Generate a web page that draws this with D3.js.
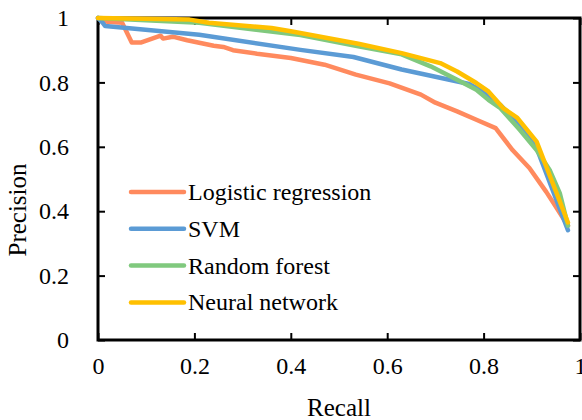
<!DOCTYPE html>
<html>
<head>
<meta charset="utf-8">
<script src="https://cdn.jsdelivr.net/npm/d3@7"></script>
<style>
  body { margin: 0; background: #fff; }
  svg text { font-family: "Liberation Serif", "Times New Roman", serif; fill: #000; }
</style>
</head>
<body>
<div id="chart"></div>
<script>
var seriesNames = ["Logistic regression", "SVM", "Random forest", "Neural network"];
var seriesColors = ["#ff8a5e", "#5b9bd5", "#80c97e", "#ffc000"];

var recallLR = [0, 0.02, 0.05, 0.07, 0.09, 0.13, 0.135, 0.155, 0.185, 0.24, 0.26, 0.28, 0.33, 0.40, 0.47, 0.535, 0.605, 0.67, 0.70, 0.745, 0.785, 0.825, 0.86, 0.895, 0.93, 0.95, 0.975];
var precisionLR = [1, 0.988, 0.985, 0.924, 0.924, 0.945, 0.936, 0.942, 0.931, 0.914, 0.91, 0.9, 0.889, 0.876, 0.855, 0.824, 0.797, 0.762, 0.737, 0.71, 0.684, 0.658, 0.59, 0.534, 0.46, 0.414, 0.355];

var recallSVM = [0, 0.01, 0.015, 0.21, 0.42, 0.53, 0.63, 0.77, 0.80, 0.835, 0.87, 0.905, 0.975];
var precisionSVM = [1, 0.985, 0.975, 0.948, 0.901, 0.879, 0.84, 0.795, 0.77, 0.73, 0.674, 0.616, 0.341];

var recallRF = [0, 0.21, 0.42, 0.54, 0.63, 0.69, 0.745, 0.785, 0.81, 0.835, 0.875, 0.91, 0.937, 0.958, 0.975];
var precisionRF = [1, 0.985, 0.947, 0.912, 0.887, 0.85, 0.808, 0.777, 0.746, 0.72, 0.653, 0.59, 0.528, 0.456, 0.355];

var recallNN = [0, 0.19, 0.23, 0.36, 0.40, 0.54, 0.63, 0.71, 0.745, 0.785, 0.81, 0.84, 0.87, 0.91, 0.975];
var precisionNN = [1, 0.995, 0.985, 0.969, 0.959, 0.92, 0.891, 0.86, 0.834, 0.798, 0.772, 0.721, 0.69, 0.616, 0.365];

var tickValues = [0, 0.2, 0.4, 0.6, 0.8, 1];

var width = 582, height = 420;
var plotLeft = 98, plotRight = 580, plotTop = 18, plotBottom = 340;

var svg = d3.select("#chart").append("svg")
  .attr("width", width)
  .attr("height", height);

var x = d3.scaleLinear().domain([0, 1]).range([plotLeft, plotRight]);
var y = d3.scaleLinear().domain([0, 1]).range([plotBottom, plotTop]);

var fmt = d => d === 0 || d === 1 ? String(d) : d.toFixed(1);

// frame ticks point inward on all four sides
function styleAxis(g) {
  g.select(".domain").remove();
  g.selectAll(".tick line").attr("stroke", "#000").attr("stroke-width", 2);
  g.selectAll(".tick text").style("font-size", "24px");
}

svg.append("g")
  .attr("transform", "translate(0," + plotBottom + ")")
  .call(d3.axisBottom(x).tickValues(tickValues).tickSizeInner(-7).tickSizeOuter(0).tickPadding(17).tickFormat(fmt))
  .call(styleAxis);

svg.append("g")
  .attr("transform", "translate(0," + plotTop + ")")
  .call(d3.axisTop(x).tickValues(tickValues).tickSizeInner(-7).tickSizeOuter(0).tickFormat(""))
  .call(styleAxis);

svg.append("g")
  .attr("transform", "translate(" + plotLeft + ",0)")
  .call(d3.axisLeft(y).tickValues(tickValues).tickSizeInner(-7).tickSizeOuter(0).tickPadding(29).tickFormat(fmt))
  .call(styleAxis);

svg.append("g")
  .attr("transform", "translate(" + plotRight + ",0)")
  .call(d3.axisRight(y).tickValues(tickValues).tickSizeInner(-7).tickSizeOuter(0).tickFormat(""))
  .call(styleAxis);

svg.append("rect")
  .attr("x", plotLeft).attr("y", plotTop)
  .attr("width", plotRight - plotLeft).attr("height", plotBottom - plotTop)
  .attr("fill", "none")
  .attr("stroke", "#000")
  .attr("stroke-width", 3);

svg.append("text")
  .attr("x", (plotLeft + plotRight) / 2)
  .attr("y", 416)
  .attr("text-anchor", "middle")
  .style("font-size", "25px")
  .text("Recall");

svg.append("text")
  .attr("transform", "translate(26,210) rotate(-90)")
  .attr("text-anchor", "middle")
  .style("font-size", "25px")
  .text("Precision");

var series = [
  { r: recallLR, p: precisionLR },
  { r: recallSVM, p: precisionSVM },
  { r: recallRF, p: precisionRF },
  { r: recallNN, p: precisionNN }
];

var line = d3.line()
  .x(d => x(d[0]))
  .y(d => y(d[1]));

svg.append("g").selectAll("path")
  .data(series)
  .enter()
  .append("path")
  .attr("d", s => line(d3.zip(s.r, s.p)))
  .attr("fill", "none")
  .attr("stroke", (s, i) => seriesColors[i])
  .attr("stroke-width", 4.5)
  .attr("stroke-linejoin", "round")
  .attr("stroke-linecap", "round");

var legend = svg.append("g").selectAll("g")
  .data(seriesNames)
  .enter()
  .append("g")
  .attr("transform", (d, i) => "translate(131," + (192 + i * 36.8) + ")");

legend.append("line")
  .attr("x1", 0).attr("x2", 53)
  .attr("stroke", (d, i) => seriesColors[i])
  .attr("stroke-width", 4.5)
  .attr("stroke-linecap", "round");

legend.append("text")
  .attr("x", 57)
  .attr("y", 8)
  .style("font-size", "24px")
  .text(d => d);
</script>
</body>
</html>
